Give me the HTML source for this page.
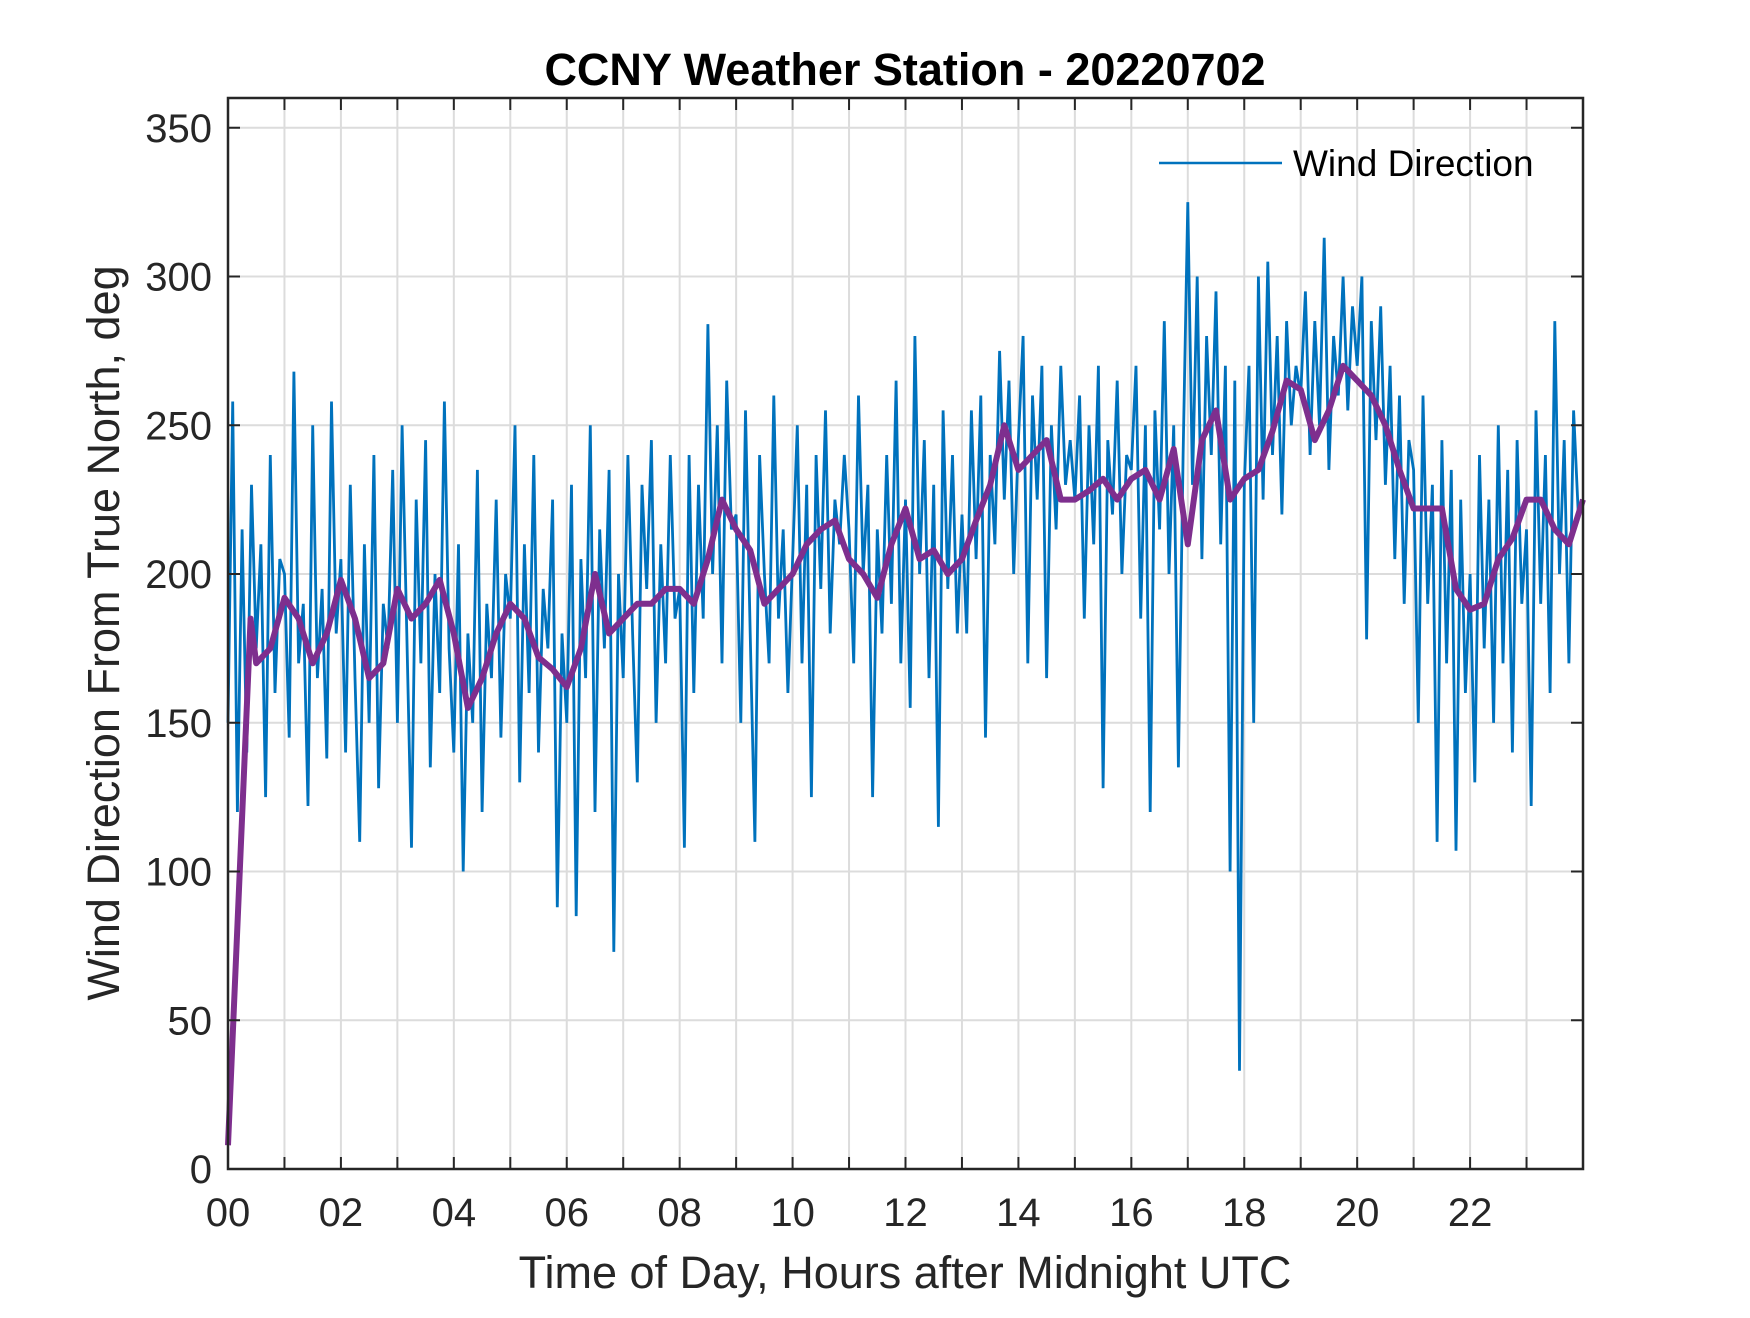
<!DOCTYPE html>
<html><head><meta charset="utf-8"><style>
html,body{margin:0;padding:0;background:#fff;}
svg text{font-family:"Liberation Sans",Arial,sans-serif;}
</style></head><body>
<svg id="chart" width="1750" height="1313" viewBox="0 0 1750 1313" xmlns="http://www.w3.org/2000/svg">
<rect x="0" y="0" width="1750" height="1313" fill="#fff"/>
<g id="grid"></g>
<g id="series"></g>
<g id="axes"></g>
<text x="905" y="85" text-anchor="middle" font-size="45" font-weight="bold" fill="#000">CCNY Weather Station - 20220702</text>
<text x="905" y="1288" text-anchor="middle" font-size="45" fill="#262626">Time of Day, Hours after Midnight UTC</text>
<text transform="translate(119,633) rotate(-90)" text-anchor="middle" font-size="45" fill="#262626">Wind Direction From True North, deg</text>
<g>
<line x1="1159" y1="163" x2="1282" y2="163" stroke="#0072BD" stroke-width="2.5"/>
<text x="1293" y="176" font-size="37" fill="#000">Wind Direction</text>
</g>
</svg>
<script>
const xTicks = [0,2,4,6,8,10,12,14,16,18,20,22];
const xTickLabels = ["00","02","04","06","08","10","12","14","16","18","20","22"];
const yTicks = [0,50,100,150,200,250,300,350];
const yTickLabels = ["0","50","100","150","200","250","300","350"];
const rawValues = [
150,258,120,215,140,230,175,210,125,240,160,205,
200,145,268,170,190,122,250,165,195,138,258,180,
205,140,230,165,110,210,150,240,128,190,175,235,
150,250,180,108,225,170,245,135,200,160,258,175,
140,210,100,180,150,235,120,190,165,225,145,200,
185,250,130,210,160,240,140,195,175,225,88,180,
150,230,85,205,165,250,120,215,175,235,73,200,
165,240,180,130,230,195,245,150,210,170,240,185,
195,108,240,160,230,185,284,200,250,170,265,215,
220,150,255,180,110,240,200,170,260,185,215,160,
205,250,170,230,125,240,195,255,180,225,210,240,
215,170,260,200,230,125,215,180,240,190,265,170,
225,155,280,200,245,165,230,115,255,195,240,180,
220,180,255,205,260,145,240,210,275,225,265,200,
245,280,170,260,225,270,165,250,215,270,230,245,
225,260,185,250,210,270,128,245,220,265,200,240,
235,270,185,250,120,255,215,285,200,250,135,240,
325,230,300,205,280,240,295,210,270,100,265,33,
230,270,150,300,225,305,240,280,220,285,250,270,
260,295,240,285,250,313,235,280,260,300,255,290,
270,300,178,285,245,290,230,270,205,260,190,245,
235,150,260,190,230,110,245,170,235,107,225,160,
200,130,240,175,225,150,250,170,235,140,245,190,
215,122,255,190,240,160,285,200,245,170,255,220
];
const smoothTimes = [0,0.4,0.5,0.75,1,1.25,1.5,1.75,2,2.25,2.5,2.75,3,3.25,3.5,3.75,4,4.25,4.5,4.75,5,5.25,5.5,5.75,6,6.25,6.5,6.75,7,7.25,7.5,7.75,8,8.25,8.5,8.75,9,9.25,9.5,9.75,10,10.25,10.5,10.75,11,11.25,11.5,11.75,12,12.25,12.5,12.75,13,13.25,13.5,13.75,14,14.25,14.5,14.75,15,15.25,15.5,15.75,16,16.25,16.5,16.75,17,17.25,17.5,17.75,18,18.25,18.5,18.75,19,19.25,19.5,19.75,20,20.25,20.5,20.75,21,21.25,21.5,21.75,22,22.25,22.5,22.75,23,23.25,23.5,23.75,24];
const smoothValues = [8,185,170,175,192,185,170,180,198,185,165,170,195,185,190,198,180,155,165,180,190,185,172,168,162,175,200,180,185,190,190,195,195,190,205,225,215,208,190,195,200,210,215,218,205,200,192,210,222,205,208,200,205,218,230,250,235,240,245,225,225,228,232,225,232,235,225,242,210,245,255,225,232,235,248,265,262,245,255,270,265,260,250,235,222,222,222,195,188,190,205,212,225,225,215,210,225];

const L=228,R=1583,T=98,B=1169,XMAX=24,YMAX=360;
const xs=v=>L+(v/XMAX)*(R-L);
const ys=v=>B-(v/YMAX)*(B-T);
const NS='http://www.w3.org/2000/svg';
function mk(tag,attrs,parent){const e=document.createElementNS(NS,tag);for(const k in attrs)e.setAttribute(k,attrs[k]);parent.appendChild(e);return e;}
const grid=document.getElementById('grid'),axes=document.getElementById('axes'),series=document.getElementById('series');
for(let h=1;h<24;h++){
  const g=mk('line',{x1:xs(h),x2:xs(h),y1:T,y2:B,stroke:'#dcdcdc','stroke-width':2},grid);
  
  
  const t1=mk('line',{x1:xs(h),x2:xs(h),y1:B,y2:B-12,stroke:'#262626','stroke-width':2},axes);
  
  
  const t2=mk('line',{x1:xs(h),x2:xs(h),y1:T,y2:T+12,stroke:'#262626','stroke-width':2},axes);
  
  
}
yTicks.forEach((v,i)=>{
  const g=mk('line',{x1:L,x2:R,y1:ys(v),y2:ys(v),stroke:'#dcdcdc','stroke-width':2},grid);
  
  
  const t1=mk('line',{x1:L,x2:L+12,y1:ys(v),y2:ys(v),stroke:'#262626','stroke-width':2},axes);
  
  
  const t2=mk('line',{x1:R,x2:R-12,y1:ys(v),y2:ys(v),stroke:'#262626','stroke-width':2},axes);
  
  
  const lb=mk('text',{x:L-16,y:ys(v)+14,'text-anchor':'end','font-size':40,fill:'#262626'},axes);
  lb.textContent=yTickLabels[i];
  
  
});
xTicks.forEach((v,i)=>{
  const lb=mk('text',{x:xs(v),y:1226,'text-anchor':'middle','font-size':40,fill:'#262626'},axes);
  lb.textContent=xTickLabels[i];
  
  
});
const box=mk('rect',{x:L,y:T,width:R-L,height:B-T,fill:'none',stroke:'#262626','stroke-width':2.5},axes);


const n=rawValues.length;
const rawPts=rawValues.map((v,i)=>xs(i*XMAX/n).toFixed(1)+','+ys(v).toFixed(1)).join(' ');
const raw=mk('polyline',{points:rawPts,fill:'none',stroke:'#0072BD','stroke-width':2.8},series);


const smPts=smoothValues.map((v,i)=>xs(smoothTimes[i]).toFixed(1)+','+ys(v).toFixed(1)).join(' ');
const sm=mk('polyline',{points:smPts,fill:'none',stroke:'#7E2F8E','stroke-width':6,'stroke-linejoin':'round'},series);


</script>
</body></html>
